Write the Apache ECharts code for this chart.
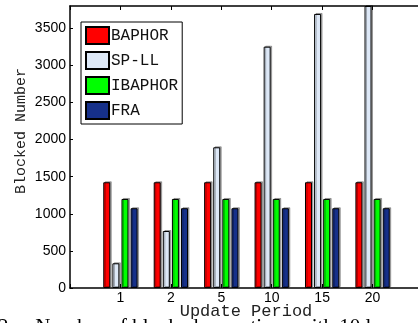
<!DOCTYPE html>
<html>
<head>
<meta charset="utf-8">
<script src="https://cdn.jsdelivr.net/npm/echarts@6/dist/echarts.min.js"></script>
<style>
  html, body { margin: 0; padding: 0; background: #fff; }
  #chart { width: 418px; height: 323px; }
</style>
</head>
<body>
<div id="chart"></div>
<script>
// ---- data ----
const categories = ["1", "2", "5", "10", "15", "20"];
const baphor  = [1425, 1425, 1425, 1425, 1425, 1425];
const spll    = [333, 768, 1896, 3252, 3693, 3800];
const ibaphor = [1200, 1200, 1200, 1200, 1200, 1200];
const fra     = [1075, 1075, 1075, 1075, 1075, 1075];
const yTicks  = [0, 500, 1000, 1500, 2000, 2500, 3000, 3500];

// MATLAB-style axis: x runs from 0 to 7, so pad one empty slot on each side
const xCats = ["", ...categories, ""];
const pad = arr => [null, ...arr, null];

const mono = "'Courier New', 'Liberation Mono', monospace";
const sans = "Helvetica, Arial, 'Liberation Sans', sans-serif";

function barSeries(name, data, color) {
  return {
    name: name,
    type: "bar",
    data: pad(data),
    barWidth: 7,
    barGap: "30%",
    itemStyle: {
      color: color,
      borderColor: "#000",
      borderWidth: 1,
      shadowColor: "rgba(0,0,0,0.3)",
      shadowOffsetX: 1.5,
      shadowOffsetY: -1,
      shadowBlur: 0
    }
  };
}

const chart = echarts.init(document.getElementById("chart"));

chart.setOption({
  animation: false,
  backgroundColor: "#fff",
  grid: { left: 70, right: -5, top: 6, bottom: 35, outerBoundsMode: "none" },
  legend: {
    left: 81,
    top: 22,
    orient: "vertical",
    itemWidth: 23,
    itemHeight: 17,
    itemGap: 6,
    padding: 4,
    backgroundColor: "#fff",
    borderColor: "#000",
    borderWidth: 1,
    icon: "rect",
    textStyle: { fontFamily: mono, fontSize: 16, color: "#111", padding: [0, 0, 0, -3] },
    data: ["BAPHOR", "SP-LL", "IBAPHOR", "FRA"]
  },
  xAxis: [
    {
      type: "category",
      data: xCats,
      boundaryGap: false,
      axisLine: { lineStyle: { color: "#000", width: 1.5 } },
      axisTick: { inside: true, length: 4, lineStyle: { color: "#000" } },
      axisLabel: { fontFamily: sans, fontSize: 14, color: "#000", margin: 3 },
      splitLine: { show: false }
    },
    {
      type: "category",
      position: "top",
      data: xCats,
      boundaryGap: false,
      axisLine: { lineStyle: { color: "#000", width: 1.5 } },
      axisTick: { inside: true, length: 4, lineStyle: { color: "#000" } },
      axisLabel: { show: false },
      splitLine: { show: false }
    }
  ],
  yAxis: {
    type: "value",
    min: yTicks[0],
    max: 3800,
    interval: 500,
    axisLine: { show: true, lineStyle: { color: "#000", width: 1.5 } },
    axisTick: { show: true, inside: true, length: 3, lineStyle: { color: "#000" } },
    axisLabel: {
      fontFamily: sans, fontSize: 14, color: "#000", margin: 4, showMaxLabel: false,
      formatter: v => String(v)
    },
    splitLine: { show: false }
  },
  graphic: [
    {
      type: "text",
      x: 21,
      y: 131,
      rotation: Math.PI / 2,
      style: {
        text: "Blocked Number",
        fontFamily: mono,
        fontSize: 15,
        fill: "#222",
        align: "center",
        verticalAlign: "middle"
      }
    },
    {
      type: "text",
      x: 246,
      y: 311,
      style: {
        text: "Update Period",
        fontFamily: mono,
        fontSize: 17,
        fill: "#222",
        align: "center",
        verticalAlign: "middle"
      }
    },
    {
      type: "text",
      x: -2,
      y: 317,
      style: {
        text: "2:    Number of blocked operations with 10 l",
        fontFamily: "'Times New Roman', 'Liberation Serif', serif",
        fontSize: 21,
        fill: "#000",
        verticalAlign: "top"
      }
    }
  ],
  series: [
    barSeries("BAPHOR", baphor, "#ff0000"),
    barSeries("SP-LL", spll, "#dde8f7"),
    barSeries("IBAPHOR", ibaphor, "#00ff00"),
    barSeries("FRA", fra, "#16308a")
  ]
});

window.addEventListener("resize", chart.resize);
</script>
</body>
</html>
